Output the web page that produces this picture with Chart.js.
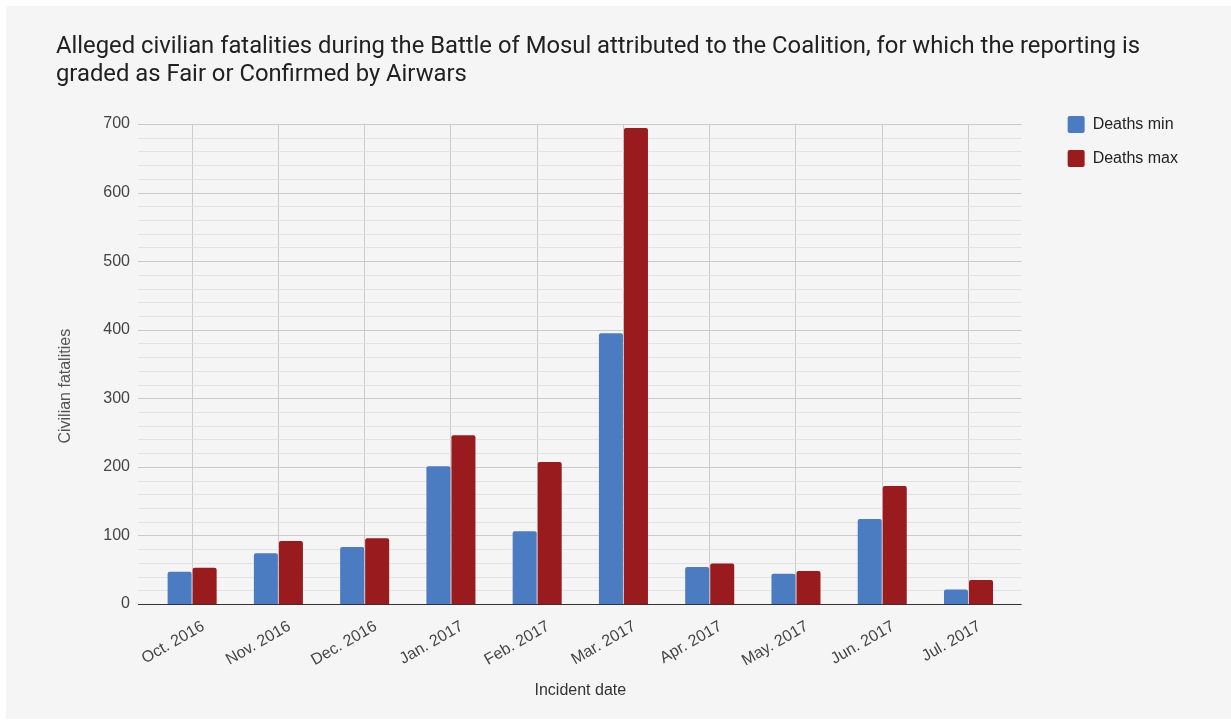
<!DOCTYPE html>
<html>
<head>
<meta charset="utf-8">
<script src="https://cdn.jsdelivr.net/npm/chart.js@4.4.1/dist/chart.umd.min.js"></script>
<style>
  html, body { margin: 0; padding: 0; background: #fff; }
  canvas { display: block; }
</style>
</head>
<body>
<canvas id="chart" width="1231" height="722"></canvas>
<script>
const months = [
  'Oct. 2016', 'Nov. 2016', 'Dec. 2016', 'Jan. 2017', 'Feb. 2017',
  'Mar. 2017', 'Apr. 2017', 'May. 2017', 'Jun. 2017', 'Jul. 2017',
];
const deathsMin = [47, 74, 83, 201, 106, 395, 54, 44, 124, 21];
const deathsMax = [53, 92, 96, 246, 207, 694, 59, 48, 172, 35];

const yMax = 700;
const yStep = 20;       // minor grid
const yLabelStep = 100; // labelled ticks

const titleLines = [
  'Alleged civilian fatalities during the Battle of Mosul attributed to the Coalition, for which the reporting is',
  'graded as Fair or Confirmed by Airwars',
];

const blue = '#4b7bc0';
const red = '#991b1e';
const labelFont = { family: "'Liberation Sans', Arial, sans-serif", size: 16 };

// grey panel behind the chart
const panel = {
  id: 'panel',
  beforeDraw(chart) {
    const { ctx, width, height } = chart;
    ctx.save();
    ctx.fillStyle = '#ffffff';
    ctx.fillRect(0, 0, width, height);
    ctx.fillStyle = '#f5f5f5';
    ctx.fillRect(6, 6, width - 6, height - 9);
    ctx.restore();
  },
};

// horizontal grid, a bit wider than the category area
const hGrid = {
  id: 'hGrid',
  beforeDatasetsDraw(chart) {
    const { ctx, chartArea: a, scales: { y } } = chart;
    ctx.save();
    ctx.lineWidth = 1;
    y.ticks.forEach((t) => {
      if (t.value === 0) return;
      const py = Math.round(y.getPixelForValue(t.value)) + 0.5;
      ctx.strokeStyle = t.value % yLabelStep === 0 ? '#cacaca' : '#e2e2e2';
      ctx.beginPath();
      ctx.moveTo(a.left - 11, py);
      ctx.lineTo(a.right + 10, py);
      ctx.stroke();
    });
    ctx.restore();
  },
  afterDatasetsDraw(chart) {
    const { ctx, chartArea: a, scales: { y } } = chart;
    const py = Math.round(y.getPixelForValue(0)) + 0.5;
    ctx.save();
    ctx.strokeStyle = '#333333';
    ctx.lineWidth = 1.2;
    ctx.beginPath();
    ctx.moveTo(a.left - 11, py);
    ctx.lineTo(a.right + 10, py);
    ctx.stroke();
    ctx.restore();
  },
};

Chart.defaults.font.family = labelFont.family;

new Chart(document.getElementById('chart'), {
  type: 'bar',
  data: {
    labels: months,
    datasets: [
      { label: 'Deaths min', data: deathsMin, backgroundColor: blue, borderRadius: 2 },
      { label: 'Deaths max', data: deathsMax, backgroundColor: red, borderRadius: 2 },
    ],
  },
  options: {
    responsive: false,
    animation: false,
    devicePixelRatio: 1,
    categoryPercentage: 0.58,
    barPercentage: 0.96,
    layout: { padding: { top: 10, left: 56, right: 43, bottom: 10 } },
    plugins: {
      title: {
        display: true,
        text: titleLines,
        align: 'start',
        color: '#212121',
        font: { family: 'Roboto', size: 23.8, weight: 'normal', lineHeight: 28 / 23.8 },
        padding: { top: 23, bottom: 35 },
      },
      legend: {
        position: 'right',
        align: 'start',
        fullSize: true,
        title: {
          display: true,
          text: ' ',
          font: { size: 10, lineHeight: 1 },
          padding: { top: 79, bottom: 0 },
        },
        labels: {
          boxWidth: 17,
          boxHeight: 17,
          padding: 17,
          color: '#222222',
          font: labelFont,
          useBorderRadius: true,
          borderRadius: 2,
        },
      },
      tooltip: { enabled: false },
    },
    scales: {
      x: {
        grid: { color: '#cccccc', offset: false, drawTicks: false },
        border: { display: false },
        ticks: {
          minRotation: 30,
          maxRotation: 30,
          padding: 13,
          labelOffset: 11,
          color: '#444444',
          font: labelFont,
        },
        title: {
          display: true,
          text: 'Incident date',
          color: '#333333',
          font: labelFont,
          padding: { top: 0, bottom: 12 },
        },
        afterFit(s) { s.height = 108; },
      },
      y: {
        min: 0,
        max: yMax,
        grid: { display: false, drawTicks: false },
        border: { display: false },
        ticks: {
          stepSize: yStep,
          autoSkip: false,
          padding: 19,
          color: '#444444',
          font: labelFont,
          callback: (v) => (v % yLabelStep === 0 ? v : ''),
        },
        title: {
          display: true,
          text: 'Civilian fatalities          ',
          color: '#555555',
          font: labelFont,
          padding: 0,
        },
        afterFit(s) { s.width = 93; },
      },
      gap: {
        type: 'linear',
        position: 'right',
        grid: { display: false, drawTicks: false },
        border: { display: false },
        ticks: { display: false },
        afterFit(s) { s.width = 39; },
      },
    },
  },
  plugins: [panel, hGrid],
});
</script>
</body>
</html>
